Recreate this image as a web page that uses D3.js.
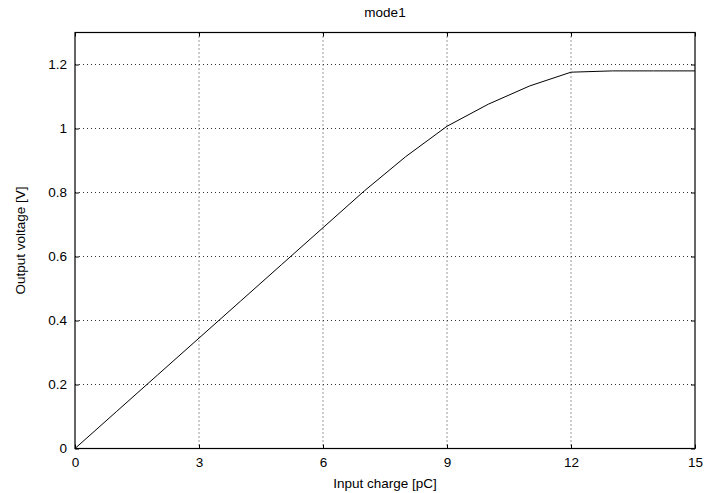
<!DOCTYPE html>
<html>
<head>
<meta charset="utf-8">
<script src="https://cdn.jsdelivr.net/npm/d3@7"></script>
<style>
  body { margin: 0; background: #fff; }
  svg text { font-family: "Liberation Sans", Arial, sans-serif; fill: #000; }
</style>
</head>
<body>
<script>
'use strict';

// values
const chargeValues = [0, 1, 2, 3, 4, 5, 6, 7, 8, 9, 10, 11, 12, 13, 14, 15];
const voltageValues = [0, 0.115, 0.23, 0.345, 0.46, 0.575, 0.69, 0.805, 0.912, 1.007, 1.076, 1.133, 1.176, 1.18, 1.18, 1.18];
const xTicks = [0, 3, 6, 9, 12, 15];
const yTicks = [0, 0.2, 0.4, 0.6, 0.8, 1, 1.2];
const titleText = 'mode1';
const xLabel = 'Input charge [pC]';
const yLabel = 'Output voltage [V]';

const width = 704;
const height = 493;
const plot = { left: 75, right: 695, top: 32.5, bottom: 448.5 };
const fontSize = '13.5px';

const svg = d3.select('body')
  .append('svg')
  .attr('width', width)
  .attr('height', height);

const xScale = d3.scaleLinear().domain([0, 15]).range([plot.left, plot.right]);
const yScale = d3.scaleLinear().domain([0, 1.3]).range([plot.bottom, plot.top]);

// dotted grid
svg.append('g')
  .selectAll('line')
  .data(xTicks.slice(1, -1))
  .enter()
  .append('line')
  .attr('x1', d => xScale(d)).attr('x2', d => xScale(d))
  .attr('y1', plot.top).attr('y2', plot.bottom)
  .attr('stroke', '#333')
  .attr('stroke-dasharray', '1,3');

svg.append('g')
  .selectAll('line')
  .data(yTicks.slice(1))
  .enter()
  .append('line')
  .attr('x1', plot.left).attr('x2', plot.right)
  .attr('y1', d => yScale(d)).attr('y2', d => yScale(d))
  .attr('stroke', '#333')
  .attr('stroke-dasharray', '1,3');

// axes with ticks pointing inward
const fmtY = d => String(+d.toFixed(1));
const tickLen = 4;

svg.append('g')
  .attr('transform', 'translate(0,' + plot.bottom + ')')
  .call(d3.axisBottom(xScale).tickValues(xTicks).tickSize(-tickLen).tickPadding(9))
  .call(g => g.select('.domain').remove())
  .call(g => g.selectAll('text').style('font-size', fontSize));

svg.append('g')
  .attr('transform', 'translate(0,' + plot.top + ')')
  .call(d3.axisTop(xScale).tickValues(xTicks).tickSize(-tickLen).tickFormat(''))
  .call(g => g.select('.domain').remove());

svg.append('g')
  .attr('transform', 'translate(' + plot.left + ',0)')
  .call(d3.axisLeft(yScale).tickValues(yTicks).tickSize(-tickLen).tickPadding(8).tickFormat(fmtY))
  .call(g => g.select('.domain').remove())
  .call(g => g.selectAll('text').style('font-size', fontSize));

svg.append('g')
  .attr('transform', 'translate(' + plot.right + ',0)')
  .call(d3.axisRight(yScale).tickValues(yTicks).tickSize(-tickLen).tickFormat(''))
  .call(g => g.select('.domain').remove());

// frame
svg.append('rect')
  .attr('x', plot.left)
  .attr('y', plot.top)
  .attr('width', plot.right - plot.left)
  .attr('height', plot.bottom - plot.top)
  .attr('fill', 'none')
  .attr('stroke', '#000')
  .attr('stroke-width', 1.2);

// data line
const points = chargeValues.map((c, i) => ({ x: c, y: voltageValues[i] }));
const line = d3.line()
  .x(d => xScale(d.x))
  .y(d => yScale(d.y));

svg.append('path')
  .datum(points)
  .attr('d', line)
  .attr('fill', 'none')
  .attr('stroke', '#000')
  .attr('stroke-width', 1);

// labels
svg.append('text')
  .attr('x', (plot.left + plot.right) / 2)
  .attr('y', 17)
  .attr('text-anchor', 'middle')
  .style('font-size', fontSize)
  .text(titleText);

svg.append('text')
  .attr('x', (plot.left + plot.right) / 2)
  .attr('y', 488)
  .attr('text-anchor', 'middle')
  .style('font-size', fontSize)
  .text(xLabel);

svg.append('text')
  .attr('transform', 'translate(25,' + (plot.top + plot.bottom) / 2 + ')rotate(-90)')
  .attr('text-anchor', 'middle')
  .style('font-size', fontSize)
  .text(yLabel);
</script>
</body>
</html>
